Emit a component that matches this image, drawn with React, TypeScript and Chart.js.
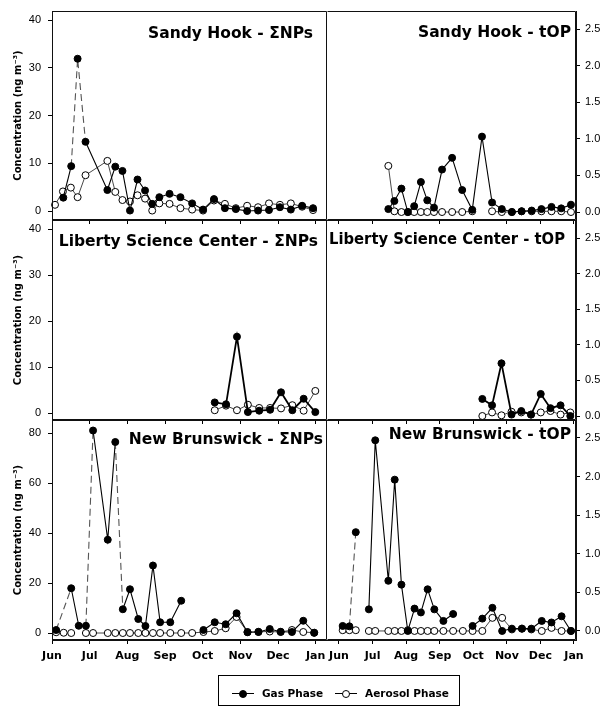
import React, { useEffect, useRef } from "react";
import { Chart, registerables } from "chart.js";
Chart.register(...registerables);

// ---------- data ----------
const MONTHS = ["Jun", "Jul", "Aug", "Sep", "Oct", "Nov", "Dec", "Jan"];
const MONTH_TICKS = [0, 1, 2, 3, 4, 5, 6, 7];
const NP_TICKS = [0, 10, 20, 30, 40];
const NB_NP_TICKS = [0, 20, 40, 60, 80];
const OP_TICKS = [0, 0.5, 1.0, 1.5, 2.0, 2.5];

// Sandy Hook - ΣNPs
const SH_NP_GAS_X = [0.30, 0.51, 0.68, 0.89, 1.47, 1.68, 1.87, 2.07, 2.27, 2.47, 2.66, 2.85, 3.12, 3.41, 3.72, 4.01, 4.30, 4.59, 4.88, 5.18, 5.47, 5.76, 6.05, 6.34, 6.64, 6.93];
const SH_NP_GAS = [2.8, 9.4, 31.9, 14.5, 4.4, 9.3, 8.4, 0.1, 6.6, 4.3, 1.5, 2.9, 3.6, 2.9, 1.6, 0.3, 2.5, 0.6, 0.4, 0.0, 0.1, 0.2, 0.8, 0.3, 1.1, 0.6];
const SH_NP_AER_X = [0.08, 0.29, 0.50, 0.68, 0.89, 1.47, 1.68, 1.87, 2.07, 2.27, 2.47, 2.66, 2.85, 3.12, 3.41, 3.72, 4.01, 4.30, 4.59, 4.88, 5.18, 5.47, 5.76, 6.05, 6.34, 6.64, 6.93];
const SH_NP_AER = [1.3, 4.1, 4.9, 2.9, 7.5, 10.5, 4.0, 2.3, 2.0, 3.3, 2.6, 0.1, 1.6, 1.5, 0.6, 0.3, 0.1, 2.2, 1.5, 0.6, 1.1, 0.8, 1.6, 1.3, 1.6, 0.9, 0.2];

// Sandy Hook - tOP
const SH_OP_X = [1.47, 1.65, 1.86, 2.05, 2.24, 2.44, 2.63, 2.83, 3.07, 3.37, 3.67, 3.97, 4.26, 4.56, 4.85, 5.15, 5.44, 5.74, 6.03, 6.33, 6.62, 6.91];
const SH_OP_GAS = [0.04, 0.15, 0.32, 0.0, 0.08, 0.41, 0.16, 0.06, 0.58, 0.74, 0.30, 0.03, 1.03, 0.13, 0.04, 0.0, 0.01, 0.02, 0.04, 0.07, 0.05, 0.10];
const SH_OP_AER = [0.63, 0.01, 0.0, 0.0, 0.0, 0.0, 0.0, 0.0, 0.0, 0.0, 0.0, 0.01, null, 0.01, 0.0, 0.0, 0.01, 0.01, 0.01, 0.01, 0.01, 0.0];

// Liberty Science Center - ΣNPs
const LS_NP_X = [4.32, 4.62, 4.91, 5.20, 5.50, 5.79, 6.08, 6.38, 6.68, 6.99];
const LS_NP_GAS = [2.3, 1.9, 16.6, 0.2, 0.5, 0.7, 4.5, 0.6, 3.1, 0.2];
const LS_NP_AER = [0.6, 1.6, 0.6, 1.8, 1.1, 1.1, 1.0, 1.7, 0.5, 4.8];

// Liberty Science Center - tOP
const LS_OP_X = [4.27, 4.56, 4.84, 5.14, 5.43, 5.72, 6.01, 6.30, 6.60, 6.89];
const LS_OP_GAS = [0.24, 0.15, 0.74, 0.02, 0.07, 0.02, 0.31, 0.11, 0.15, 0.0];
const LS_OP_AER = [0.0, 0.05, 0.01, 0.06, 0.05, 0.02, 0.05, 0.07, 0.02, 0.05];

// New Brunswick - ΣNPs
const NB_NP_GAS_X = [0.11, 0.51, 0.71, 0.90, 1.09, 1.48, 1.68, 1.88, 2.07, 2.29, 2.48, 2.68, 2.87, 3.14, 3.43, 3.72, 4.02, 4.32, 4.61, 4.90, 5.19, 5.48, 5.78, 6.07, 6.37, 6.67, 6.96];
const NB_NP_GAS = [1.2, 17.9, 2.9, 2.9, 81, 37.3, 76.4, 9.5, 17.5, 5.6, 2.8, 27, 4.3, 4.3, 12.9, null, 1.2, 4.3, 3.5, 7.9, 0.3, 0.4, 1.6, 0.5, 0.4, 4.9, 0.1];
const NB_NP_AER_X = [0.11, 0.31, 0.51, 0.71, 0.90, 1.09, 1.48, 1.68, 1.88, 2.07, 2.29, 2.48, 2.68, 2.87, 3.14, 3.43, 3.72, 4.02, 4.32, 4.61, 4.90, 5.19, 5.48, 5.78, 6.07, 6.37, 6.67, 6.96];
const NB_NP_AER = [0.3, 0.1, 0.0, null, 0.0, 0.0, 0.0, 0.0, 0.0, 0.0, 0.0, 0.0, 0.0, 0.0, 0.0, 0.0, 0.0, 0.4, 0.8, 1.9, 6.4, 0.4, 0.5, 0.6, 0.4, 1.2, 0.4, 0.1];

// New Brunswick - tOP
const NB_OP_X = [0.11, 0.31, 0.50, 0.70, 0.89, 1.08, 1.47, 1.66, 1.86, 2.05, 2.25, 2.44, 2.64, 2.84, 3.11, 3.40, 3.69, 3.98, 4.27, 4.57, 4.86, 5.15, 5.45, 5.73, 6.04, 6.33, 6.63, 6.91];
const NB_OP_GAS = [0.065, 0.06, 1.28, null, 0.28, 2.47, 0.65, 1.96, 0.60, 0.0, 0.29, 0.24, 0.54, 0.28, 0.13, 0.22, null, 0.065, 0.16, 0.30, 0.0, 0.03, 0.03, 0.03, 0.13, 0.11, 0.19, 0.0];
const NB_OP_AER = [0.01, 0.01, 0.01, null, 0.0, 0.0, 0.0, 0.0, 0.0, 0.01, 0.0, 0.0, 0.0, 0.0, 0.0, 0.0, 0.0, 0.0, 0.0, 0.17, 0.17, 0.02, 0.03, 0.02, 0.0, 0.04, 0.0, 0.0];

// ---------- styles / layout ----------
const SH_NP_DASHED = [1, 2];
const NB_NP_DASHED = [0, 3, 6];
const NB_OP_DASHED = [1];

type Series = { x: number[]; y: (number | null)[]; gas: boolean; dashed?: number[]; width?: number };
type PanelCfg = {
  left: number; top: number; width: number; height: number;
  side: "left" | "right"; padTop: number; xAxisH: number; yAxisW: number;
  xMin: number; xMax: number; showX: boolean;
  yMin: number; yMax: number; yTicks: number[]; decimals: number;
  title: string; titleDx: number; titleDy: number; titleMaxW?: number;
  drawTop: boolean;
  series: Series[];
};

const LCOL = { left: 0, width: 327, yAxisW: 52, xMin: 0, xMax: 7.3, side: "left" as const };
const RCOL = { left: 327, width: 286, yAxisW: 37, xMin: -0.357, xMax: 7.06, side: "right" as const };
const ROW1 = { top: 0, height: 224, padTop: 11, xAxisH: 4, showX: false, drawTop: true };
const ROW2 = { top: 216, height: 208, padTop: 4, xAxisH: 4, showX: false, drawTop: false };
const ROW3 = { top: 416, height: 260, padTop: 4, xAxisH: 36, showX: true, drawTop: false };

const PANELS: PanelCfg[] = [
  { ...LCOL, ...ROW1, yMin: -1.88, yMax: 41.9, yTicks: NP_TICKS, decimals: 0, title: "Sandy Hook - ΣNPs", titleDx: 14, titleDy: 23,
    series: [{ x: SH_NP_GAS_X, y: SH_NP_GAS, gas: true, dashed: SH_NP_DASHED }, { x: SH_NP_AER_X, y: SH_NP_AER, gas: false }] },
  { ...RCOL, ...ROW1, yMin: -0.109, yMax: 2.746, yTicks: OP_TICKS, decimals: 1, title: "Sandy Hook - tOP", titleDx: 5, titleDy: 22,
    series: [{ x: SH_OP_X, y: SH_OP_GAS, gas: true }, { x: SH_OP_X, y: SH_OP_AER, gas: false }] },
  { ...LCOL, ...ROW2, yMin: -1.52, yMax: 41.96, yTicks: NP_TICKS, decimals: 0, title: "Liberty Science Center - ΣNPs", titleDx: 9, titleDy: 22,
    series: [{ x: LS_NP_X, y: LS_NP_GAS, gas: true, width: 1.8 }, { x: LS_NP_X, y: LS_NP_AER, gas: false }] },
  { ...RCOL, ...ROW2, yMin: -0.056, yMax: 2.753, yTicks: OP_TICKS, decimals: 1, title: "Liberty Science Center - tOP", titleDx: 11, titleDy: 20, titleMaxW: 236,
    series: [{ x: LS_OP_X, y: LS_OP_GAS, gas: true, width: 1.8 }, { x: LS_OP_X, y: LS_OP_AER, gas: false }] },
  { ...LCOL, ...ROW3, yMin: -2.8, yMax: 85.2, yTicks: NB_NP_TICKS, decimals: 0, title: "New Brunswick - ΣNPs", titleDx: 4, titleDy: 20,
    series: [{ x: NB_NP_GAS_X, y: NB_NP_GAS, gas: true, dashed: NB_NP_DASHED }, { x: NB_NP_AER_X, y: NB_NP_AER, gas: false }] },
  { ...RCOL, ...ROW3, yMin: -0.117, yMax: 2.733, yTicks: OP_TICKS, decimals: 1, title: "New Brunswick - tOP", titleDx: 5, titleDy: 15,
    series: [{ x: NB_OP_X, y: NB_OP_GAS, gas: true, dashed: NB_OP_DASHED }, { x: NB_OP_X, y: NB_OP_AER, gas: false }] },
];

const TICK_FONT = { family: "'Liberation Sans', Arial, sans-serif", size: 11 };
const BOLD_FONT = "'DejaVu Sans', sans-serif";

function Panel({ cfg }: { cfg: PanelCfg }) {
  const ref = useRef<HTMLCanvasElement | null>(null);
  useEffect(() => {
    if (!ref.current) return;
    const datasets = cfg.series.map((s) => {
      const dashed = s.dashed || [];
      return {
        data: s.x.map((x, i) => ({ x, y: s.y[i] })),
        borderColor: s.gas ? "#000" : "#333",
        borderWidth: s.width || (s.gas ? 1.1 : 0.9),
        pointRadius: 3.5,
        pointBorderWidth: 1,
        pointBorderColor: "#000",
        pointBackgroundColor: s.gas ? "#000" : "#fff",
        fill: false,
        tension: 0,
        spanGaps: false,
        clip: false as any,
        segment: {
          borderDash: (c: any) => (dashed.includes(c.p0DataIndex) ? [7, 4] : undefined),
          borderColor: (c: any) => (dashed.includes(c.p0DataIndex) ? "#555" : undefined),
        },
      };
    });
    const panelPlugin = {
      id: "panelDeco",
      afterDraw(chart: any) {
        const { ctx, chartArea: a } = chart;
        ctx.save();
        ctx.strokeStyle = "#111";
        ctx.lineWidth = 1;
        ctx.setLineDash([]);
        const l = Math.round(a.left) + 0.5;
        const r = Math.round(a.right) - 0.5;
        const t = Math.round(a.top) + 0.5;
        const b = Math.round(a.bottom) - 0.5;
        ctx.beginPath();
        if (cfg.drawTop) { ctx.moveTo(l, t); ctx.lineTo(r, t); }
        ctx.moveTo(l, b); ctx.lineTo(r, b);
        ctx.moveTo(r, t); ctx.lineTo(r, b);
        if (cfg.side === "left") { ctx.moveTo(l, t); ctx.lineTo(l, b); }
        ctx.stroke();
        ctx.font = `bold 15.5px ${BOLD_FONT}`;
        ctx.fillStyle = "#000";
        ctx.textAlign = "right";
        ctx.textBaseline = "middle";
        if (cfg.titleMaxW) ctx.fillText(cfg.title, a.right - cfg.titleDx, a.top + cfg.titleDy, cfg.titleMaxW);
        else ctx.fillText(cfg.title, a.right - cfg.titleDx, a.top + cfg.titleDy);
        ctx.restore();
      },
    };
    const chart = new Chart(ref.current, {
      type: "line",
      data: { datasets: datasets as any },
      plugins: [panelPlugin],
      options: {
        animation: false,
        responsive: false,
        devicePixelRatio: 1,
        layout: { autoPadding: false, padding: { top: cfg.padTop, left: 0, right: 0, bottom: 0 } },
        plugins: { legend: { display: false }, tooltip: { enabled: false }, title: { display: false } },
        scales: {
          x: {
            type: "linear",
            min: cfg.xMin,
            max: cfg.xMax,
            afterBuildTicks: (s: any) => { s.ticks = MONTH_TICKS.map((v) => ({ value: v })); },
            afterFit: (s: any) => { s.height = cfg.xAxisH; s.paddingLeft = 0; s.paddingRight = 0; },
            grid: { display: true, drawOnChartArea: false, drawTicks: true, tickLength: 4, color: "#000", tickColor: "#000" },
            border: { display: true, color: "#111", width: 1 },
            ticks: {
              display: cfg.showX,
              autoSkip: false,
              maxRotation: 0,
              padding: 6,
              color: "#000",
              font: { family: BOLD_FONT, weight: "bold", size: 11 },
              callback: (v: any) => MONTHS[Math.round(Number(v))] ?? "",
            },
          },
          y: {
            type: "linear",
            position: cfg.side,
            min: cfg.yMin,
            max: cfg.yMax,
            afterBuildTicks: (s: any) => { s.ticks = cfg.yTicks.map((v) => ({ value: v })); },
            afterFit: (s: any) => { s.width = cfg.yAxisW; s.paddingTop = 0; s.paddingBottom = 0; },
            grid: { display: true, drawOnChartArea: false, drawTicks: true, tickLength: 4, color: "#000", tickColor: "#000" },
            border: { display: true, color: "#111", width: 1 },
            ticks: {
              padding: cfg.side === "left" ? 7 : 5,
              color: "#000",
              font: TICK_FONT,
              callback: (v: any) => Number(v).toFixed(cfg.decimals),
            },
            title: {
              display: cfg.side === "left",
              text: "Concentration (ng m⁻³)",
              color: "#000",
              font: { family: BOLD_FONT, weight: "bold", size: 10 },
              padding: { top: 12, bottom: 0 },
            },
          },
        },
      } as any,
    });
    return () => chart.destroy();
  }, [cfg]);
  return (
    <canvas
      ref={ref}
      width={cfg.width}
      height={cfg.height}
      style={{ position: "absolute", left: cfg.left, top: cfg.top, width: cfg.width, height: cfg.height }}
    />
  );
}

function LegendItem({ x, filled, label }: { x: number; filled: boolean; label: string }) {
  return (
    <>
      <div style={{ position: "absolute", left: x, top: 17, width: 22, height: 1, background: "#000" }} />
      <div
        style={{
          position: "absolute", left: x + 7, top: 14, width: 6, height: 6, borderRadius: "50%",
          border: "1px solid #000", background: filled ? "#000" : "#fff",
        }}
      />
      <div
        style={{
          position: "absolute", left: x + 30, top: 10, fontFamily: BOLD_FONT, fontWeight: "bold",
          fontSize: 10.5, lineHeight: "14px", color: "#000", whiteSpace: "nowrap",
        }}
      >
        {label}
      </div>
    </>
  );
}

export default function App() {
  return (
    <div style={{ position: "absolute", left: 0, top: 0, width: 613, height: 709, background: "#fff", overflow: "hidden" }}>
      {PANELS.map((p, i) => (
        <Panel key={i} cfg={p} />
      ))}
      <div style={{ position: "absolute", left: 218, top: 675, width: 242, height: 31, border: "1px solid #000", boxSizing: "border-box" }}>
        <LegendItem x={13} filled={true} label="Gas Phase" />
        <LegendItem x={116} filled={false} label="Aerosol Phase" />
      </div>
    </div>
  );
}
